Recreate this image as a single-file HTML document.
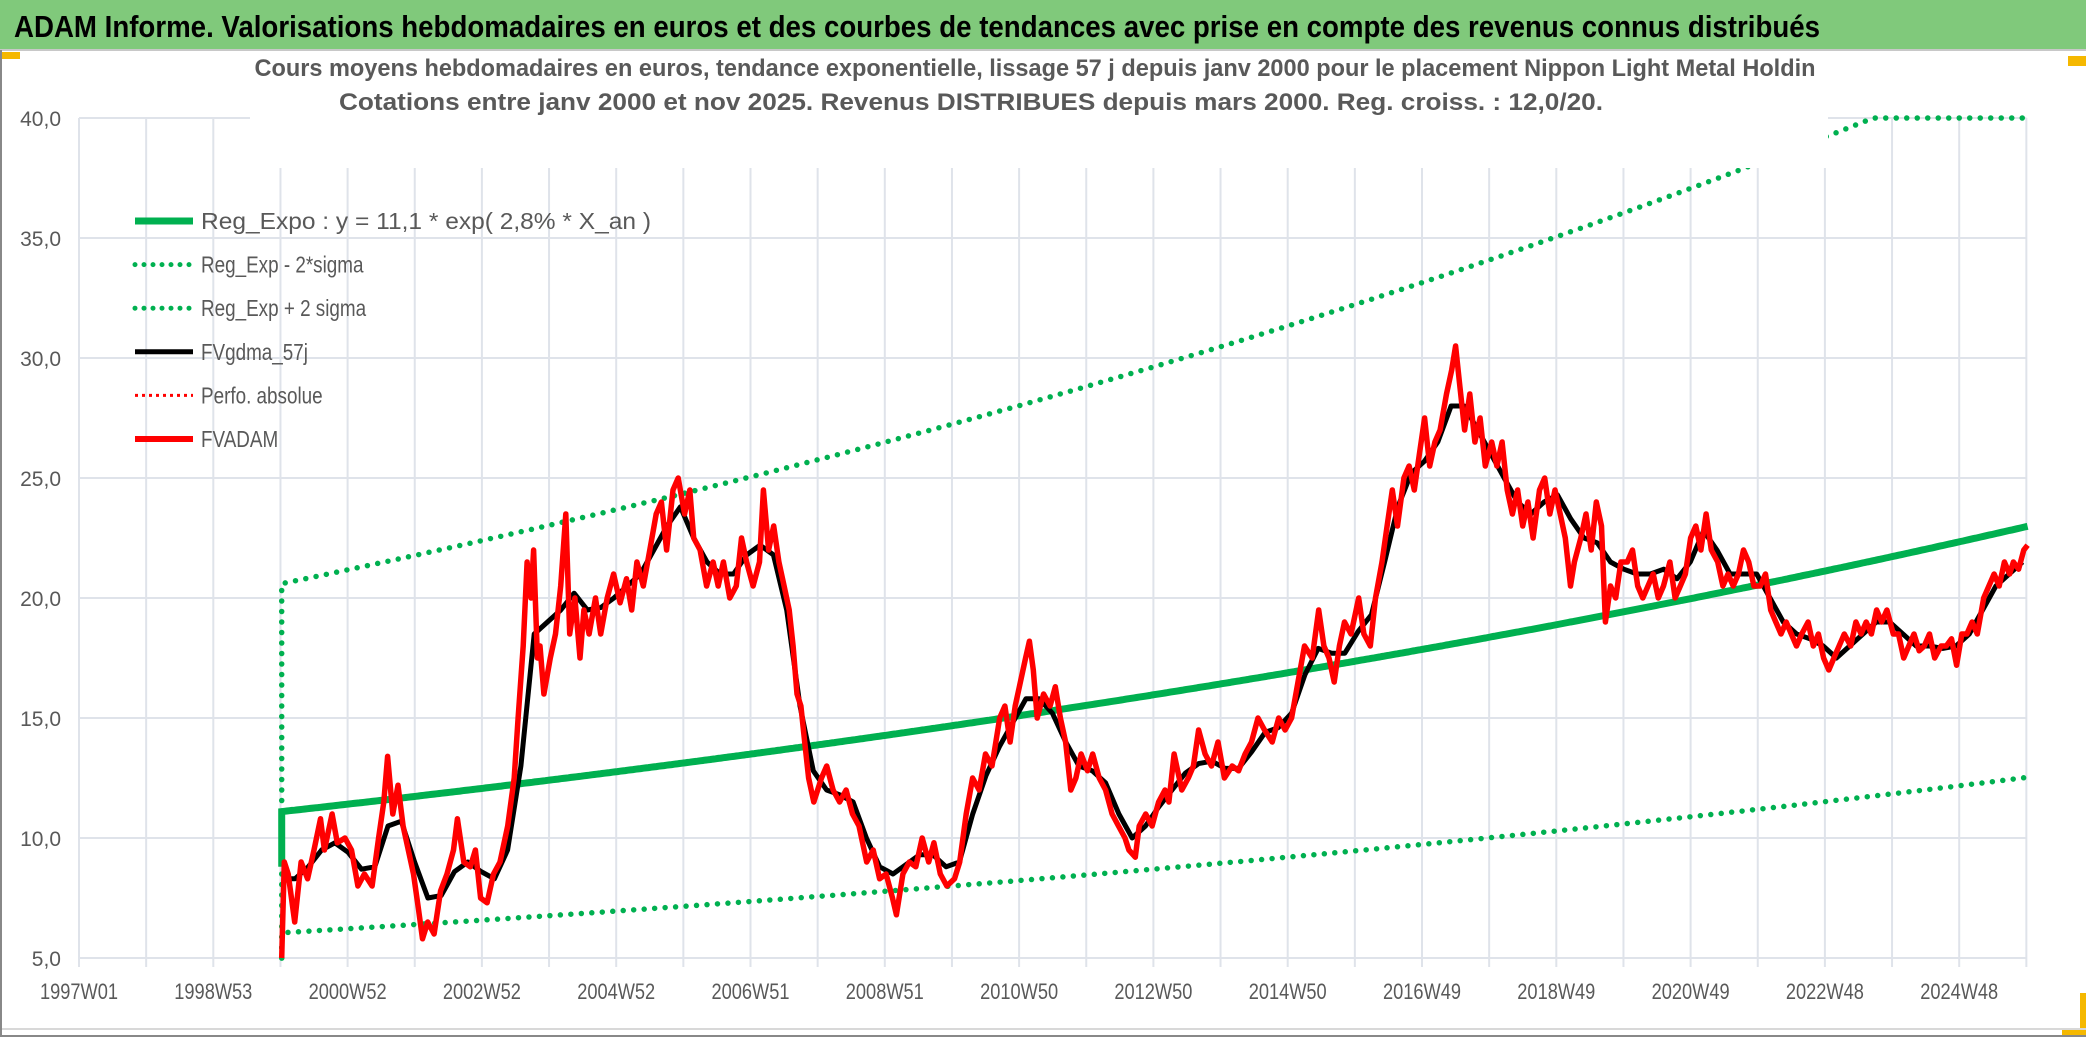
<!DOCTYPE html>
<html><head><meta charset="utf-8"><style>
html,body{margin:0;padding:0;background:#fff}
svg{display:block}
text{font-family:"Liberation Sans",sans-serif}
</style></head><body>
<svg id="c" width="2086" height="1037" viewBox="0 0 2086 1037" xmlns="http://www.w3.org/2000/svg">
<rect x="0" y="0" width="2086" height="1037" fill="#fff"/>
<rect x="0" y="0" width="2086" height="49" fill="#80c97b"/>
<line x1="0" y1="50" x2="2086" y2="50" stroke="#c8c8c8" stroke-width="2"/>
<text x="14" y="37" font-size="31" font-weight="bold" fill="#000" textLength="1806" lengthAdjust="spacingAndGlyphs">ADAM Informe. Valorisations hebdomadaires en euros et des courbes de tendances avec prise en compte des revenus connus distribués</text>
<rect x="0" y="52" width="20" height="7" fill="#f5b800"/>
<rect x="2068" y="56" width="18" height="10" fill="#f5b800"/>
<rect x="2080" y="993" width="6" height="44" fill="#f5b800"/>
<rect x="2062" y="1030" width="24" height="7" fill="#f5b800"/>
<line x1="0" y1="1029" x2="2086" y2="1029" stroke="#d8d8d8" stroke-width="2"/>
<line x1="0" y1="1036" x2="2086" y2="1036" stroke="#888" stroke-width="2"/>
<line x1="1" y1="50" x2="1" y2="1037" stroke="#888" stroke-width="2"/>
<g id="grid"></g><g id="axes"></g><g id="series"></g>
<rect x="250" y="52" width="1578" height="116" fill="#fff"/>
<text x="1035" y="76" text-anchor="middle" font-size="24" font-weight="bold" fill="#595959" textLength="1561" lengthAdjust="spacingAndGlyphs">Cours moyens hebdomadaires en euros, tendance exponentielle, lissage 57 j depuis janv 2000 pour le placement Nippon Light Metal Holdin</text>
<text x="971" y="110" text-anchor="middle" font-size="24" font-weight="bold" fill="#595959" textLength="1264" lengthAdjust="spacingAndGlyphs">Cotations entre janv 2000 et nov 2025. Revenus DISTRIBUES depuis mars 2000. Reg. croiss. : 12,0/20.</text>
<g id="legend"></g>
</svg>
<script>
const yTicks=[5,10,15,20,25,30,35,40];
const yTickLabels=["5,0","10,0","15,0","20,0","25,0","30,0","35,0","40,0"];
const xTickLabels=["1997W01","1998W53","2000W52","2002W52","2004W52","2006W51","2008W51","2010W50","2012W50","2014W50","2016W49","2018W49","2020W49","2022W48","2024W48"];
const seriesStartWeek=157;
const seriesEndWeek=1509;
const regCoef=11.1;
const regRate=0.028;
const lowCoef=6.05;
const highCoef=20.6;
const yMax=40;
// weeks since 1997W01
const redWeeks=[157,159,162,167,172,177,182,187,190,196,200,206,211,216,221,227,232,236,239,243,247,251,255,259,263,266,270,275,280,285,290,293,298,303,307,311,316,321,326,332,337,340,344,347,350,352,355,357,360,365,369,373,377,380,384,388,391,395,400,404,409,414,419,424,428,432,437,442,447,451,455,460,464,469,473,476,481,486,491,495,499,504,509,513,517,522,527,530,534,538,542,546,550,553,556,559,562,565,569,575,579,584,589,594,599,604,610,615,620,625,630,633,638,643,648,653,658,662,667,672,678,682,687,692,697,702,707,713,717,721,725,729,733,736,739,742,747,752,756,760,764,768,772,776,781,785,790,795,800,805,810,813,818,821,826,831,836,841,844,848,854,859,863,867,872,877,882,887,893,898,903,908,913,918,924,929,934,939,944,949,955,960,964,968,972,976,980,985,991,995,1000,1004,1009,1013,1017,1021,1026,1030,1034,1038,1042,1046,1050,1054,1059,1063,1066,1069,1073,1077,1081,1085,1089,1094,1098,1102,1106,1110,1114,1118,1122,1126,1131,1135,1139,1143,1147,1151,1155,1158,1163,1167,1171,1175,1179,1182,1186,1190,1194,1199,1203,1207,1211,1215,1219,1223,1227,1232,1236,1240,1244,1248,1252,1256,1260,1264,1269,1273,1277,1281,1285,1289,1293,1297,1302,1306,1310,1314,1318,1322,1326,1330,1334,1339,1343,1347,1351,1355,1359,1363,1367,1372,1376,1380,1384,1388,1392,1396,1400,1405,1409,1413,1417,1421,1425,1429,1433,1437,1442,1446,1450,1454,1458,1462,1466,1470,1475,1479,1483,1487,1491,1495,1498,1502,1506,1509];
const redValues=[5.0,9,8.5,6.5,9,8.3,9.5,10.8,9.5,11,9.8,10,9.5,8,8.5,8.0,10.0,11.5,13.4,11,12.2,10.5,9.5,8.5,7.0,5.8,6.5,6.0,7.8,8.5,9.5,10.8,9.0,8.8,9.5,7.5,7.3,8.5,9.0,10.5,12.5,15.0,18.0,21.5,20.0,22.0,17.5,18.0,16.0,17.5,18.5,20.5,23.5,18.5,20.0,17.5,19.5,18.5,20.0,18.5,20.0,21.0,19.8,20.8,19.5,21.5,20.5,22.0,23.5,24.0,22.0,24.5,25.0,23.5,24.5,22.5,22.0,20.5,21.5,20.5,21.5,20.0,20.5,22.5,21.5,20.5,21.5,24.5,22.0,23.0,21.5,20.5,19.5,18.0,16.0,15.5,14.0,12.5,11.5,12.5,13.0,12.0,11.5,12.0,11.0,10.5,9.0,9.5,8.3,8.5,7.5,6.8,8.5,9.0,8.8,10.0,9.0,9.8,8.5,8.0,8.3,9.0,11.0,12.5,12.0,13.5,13.0,15.0,15.5,14.0,15.5,16.5,17.5,18.2,17.0,15.0,16.0,15.5,16.3,15.0,14.0,12.0,12.5,13.5,12.8,13.5,12.5,12.0,11.0,10.5,10.0,9.5,9.2,10.5,11.0,10.5,11.5,12.0,11.5,13.5,12.0,12.5,13.0,14.5,13.5,13.0,14.0,12.5,13.0,12.8,13.5,14.0,15.0,14.5,14.0,15.0,14.5,15.0,16.5,18.0,17.5,19.5,18.0,17.5,16.5,18.0,19.0,18.5,20.0,18.5,18.0,20.0,21.5,23.0,24.5,23.0,25.0,25.5,24.5,26.0,27.5,25.5,26.5,27.0,28.5,29.5,30.5,29.0,27.0,28.5,26.5,27.5,25.5,26.5,25.5,26.5,24.5,23.5,24.5,23.0,24.0,22.5,24.5,25.0,23.5,24.5,23.5,22.5,20.5,21.5,22.5,23.5,22.0,24.0,23.0,19.0,20.5,20.0,21.5,21.5,22.0,20.5,20.0,20.5,21.0,20.0,20.5,21.5,20.0,20.5,21.0,22.5,23.0,22.0,23.5,22.0,21.5,20.5,21.0,20.5,21.0,22.0,21.5,20.5,20.5,21.0,19.5,19.0,18.5,19.0,18.5,18.0,18.5,19.0,18.0,18.5,17.5,17.0,17.5,18.0,18.5,18.0,19.0,18.5,19.0,18.5,19.5,19.0,19.5,18.5,18.5,17.5,18.0,18.5,17.8,18.0,18.5,17.5,18.0,18.0,18.3,17.2,18.5,18.5,19.0,18.5,20.0,20.5,21.0,20.5,21.5,21.0,21.5,21.2,22.0,22.2];
const blackStartWeek=157;
const blackEndWeek=1505;
const blackValues=[8.3,8.3,8.8,9.5,9.8,9.4,8.7,8.8,10.5,10.7,9.0,7.5,7.6,8.6,9.0,8.6,8.3,9.5,13.0,18.5,19.0,19.5,20.2,19.5,19.6,20.0,20.5,21.0,22.0,23.0,23.8,22.5,21.5,21.0,21.0,21.8,22.2,21.8,19.5,15.5,12.8,12.0,11.8,11.5,10.0,8.8,8.5,8.9,9.3,9.3,8.8,9.0,11.0,12.6,13.8,14.8,15.8,15.8,15.2,14.0,13.0,12.8,12.3,11.0,10.0,10.5,11.3,12.0,12.7,13.1,13.2,12.9,12.9,13.6,14.4,14.6,15.2,16.8,17.9,17.7,17.7,18.6,19.3,21.5,23.8,25.2,25.7,26.5,28.0,28.0,27.0,26.0,25.0,24.0,23.5,24.0,24.3,23.3,22.5,22.3,21.5,21.2,21.0,21.0,21.2,20.8,21.5,22.8,22.0,21.0,21.0,21.0,20.0,19.0,18.5,18.3,18.0,17.5,18.0,18.5,19.0,19.0,18.5,18.0,18.0,17.9,18.0,18.5,19.5,20.5,21.0,21.5];
const legendLabels=["Reg_Expo : y = 11,1 * exp( 2,8% *  X_an )","Reg_Exp - 2*sigma","Reg_Exp + 2 sigma","FVgdma_57j","Perfo. absolue","FVADAM"];

const NS="http://www.w3.org/2000/svg";
const X0=79, PX_YEAR=67.15, Y5=958, PX_UNIT=24;
function xw(w){return X0+w*PX_YEAR/52;}
function ys(v){return Y5-(v-5)*PX_UNIT;}
function mk(tag,attrs,parent){const e=document.createElementNS(NS,tag);for(const k in attrs)e.setAttribute(k,attrs[k]);parent.appendChild(e);return e;}
const grid=document.getElementById('grid'),axes=document.getElementById('axes'),ser=document.getElementById('series'),leg=document.getElementById('legend');
const xEnd=X0+29*PX_YEAR;
for(let k=0;k<=29;k++){const x=X0+k*PX_YEAR;
 const l=mk('line',{x1:x,y1:ys(yMax),x2:x,y2:Y5+9,stroke:'#dfe3ea','stroke-width':2},grid);
 
 }
yTicks.forEach((v,i)=>{
 const l=mk('line',{x1:X0,y1:ys(v),x2:xEnd,y2:ys(v),stroke:'#dfe3ea','stroke-width':2},grid);
 
 
 const t=mk('text',{x:61,y:ys(v)+8,'text-anchor':'end','font-size':21,fill:'#595959'},axes);
 t.textContent=yTickLabels[i];
 
 
});
xTickLabels.forEach((s,i)=>{
 const t=mk('text',{x:X0+i*2*PX_YEAR,y:999,'text-anchor':'middle','font-size':22,fill:'#595959',textLength:78,lengthAdjust:'spacingAndGlyphs'},axes);
 t.textContent=s;
 
 
});
function pathFrom(pts){return pts.map((p,i)=>(i?'L':'M')+p[0].toFixed(1)+','+p[1].toFixed(1)).join('');}
function expPts(coef){const pts=[];for(let w=seriesStartWeek;w<=seriesEndWeek;w+=2){pts.push([xw(w),ys(Math.min(yMax,coef*Math.exp(regRate*(w-seriesStartWeek)/52)))]);}return pts;}
let p=mk('path',{d:'M'+xw(seriesStartWeek)+','+ys(5)+pathFrom(expPts(lowCoef)).replace('M','L'),fill:'none',stroke:'#00b050','stroke-width':5.5,'stroke-linecap':'round','stroke-dasharray':'0 10.5'},ser);


p=mk('path',{d:'M'+xw(seriesStartWeek)+','+ys(5)+pathFrom(expPts(highCoef)).replace('M','L'),fill:'none',stroke:'#00b050','stroke-width':5.5,'stroke-linecap':'round','stroke-dasharray':'0 10.5'},ser);


p=mk('path',{d:'M'+xw(seriesStartWeek)+','+ys(8.8)+pathFrom(expPts(regCoef)).replace('M','L'),fill:'none',stroke:'#00b050','stroke-width':7},ser);


const blackPts=blackValues.map((v,i)=>[xw(blackStartWeek+(blackEndWeek-blackStartWeek)*i/(blackValues.length-1)),ys(v)]);
p=mk('path',{d:pathFrom(blackPts),fill:'none',stroke:'#000','stroke-width':5,'stroke-linejoin':'round'},ser);


const n=Math.min(redWeeks.length,redValues.length);
const redPts=[];for(let i=0;i<n;i++)redPts.push([xw(redWeeks[i]),ys(redValues[i])]);
p=mk('path',{d:pathFrom(redPts),fill:'none',stroke:'#ff0000','stroke-width':5.5,'stroke-linejoin':'round'},ser);


const legStyles=[{c:'#00b050',w:7,d:''},{c:'#00b050',w:5,d:'0 9'},{c:'#00b050',w:5,d:'0 9'},{c:'#000',w:5,d:''},{c:'#ff0000',w:3,d:'3 4'},{c:'#ff0000',w:6,d:''}];
legendLabels.forEach((s,i)=>{const y=221+i*43.6;
 const g=mk('g',{},leg);
 
 
 const a={x1:135,y1:y,x2:193,y2:y,stroke:legStyles[i].c,'stroke-width':legStyles[i].w,'stroke-linecap':legStyles[i].d.startsWith('0')?'round':'butt'};
 if(legStyles[i].d)a['stroke-dasharray']=legStyles[i].d;
 mk('line',a,g);
 const t=mk('text',{x:201,y:y+8,'font-size':23,fill:'#595959'},g);
 t.textContent=s;
 const L=t.getComputedTextLength();
 t.setAttribute('textLength',i===0?450:L*0.82);
 t.setAttribute('lengthAdjust','spacingAndGlyphs');
});
</script>
</body></html>
